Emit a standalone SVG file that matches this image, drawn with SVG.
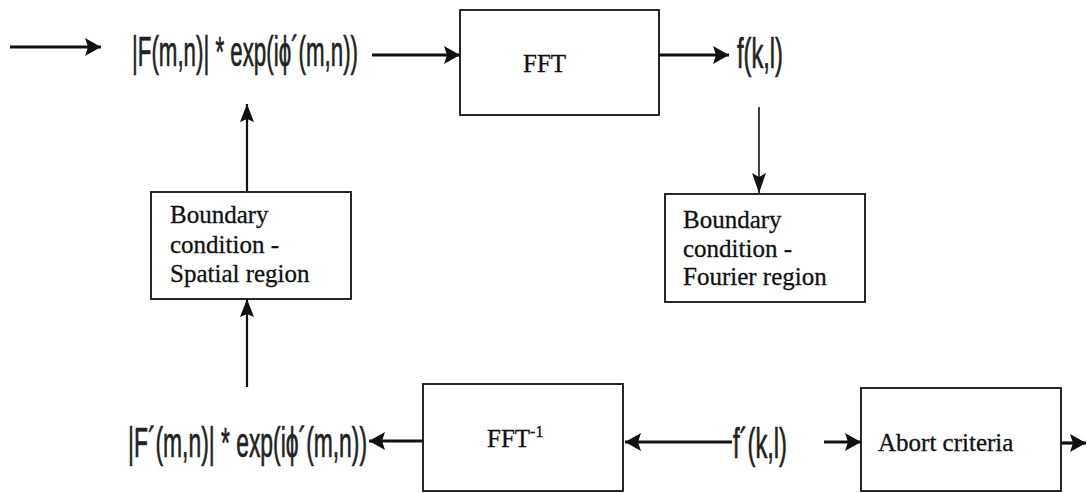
<svg xmlns="http://www.w3.org/2000/svg" width="1087" height="493" viewBox="0 0 1087 493">
<style>
.box{fill:#fff;stroke:#111;stroke-width:1.8}
.serif{font-family:"Liberation Serif","Times New Roman",serif;font-size:25px;fill:#111;stroke:#111;stroke-width:0.3}
.math{font-family:"Liberation Sans",Arial,sans-serif;font-size:42px;fill:#222;stroke:#222;stroke-width:0.7}
.thick{stroke:#111;stroke-width:3.2;fill:none}
.mid{stroke:#111;stroke-width:2.2;fill:none}
.thin{stroke:#111;stroke-width:1.6;fill:none}
</style>
<defs>
<marker id="ah" markerUnits="userSpaceOnUse" viewBox="0 0 16 18" refX="16" refY="9" markerWidth="16" markerHeight="18" orient="auto"><path d="M0,0 L16,9 L0,18 L3,9 z" fill="#111"/></marker>
<marker id="ahm" markerUnits="userSpaceOnUse" viewBox="0 0 18 14" refX="18" refY="7" markerWidth="18" markerHeight="14" orient="auto"><path d="M0,0 L18,7 L0,14 L3,7 z" fill="#111"/></marker>
<marker id="aht" markerUnits="userSpaceOnUse" viewBox="0 0 20 14" refX="20" refY="7" markerWidth="20" markerHeight="14" orient="auto"><path d="M0,0 L20,7 L0,14 L4,7 z" fill="#111"/></marker>
</defs>
<rect width="1087" height="493" fill="#fff"/>
<g id="connectors">
<line class="thick" x1="10" y1="47" x2="101" y2="47" marker-end="url(#ah)"/>
<line class="thick" x1="372" y1="55" x2="460" y2="55" marker-end="url(#ah)"/>
<line class="thick" x1="659" y1="55" x2="729" y2="55" marker-end="url(#ah)"/>
<line class="thin" x1="759" y1="107" x2="759" y2="193" marker-end="url(#aht)"/>
<line class="mid" x1="247" y1="192" x2="247" y2="104" marker-end="url(#ahm)"/>
<line class="mid" x1="247" y1="387" x2="247" y2="299" marker-end="url(#ahm)"/>
<line class="thick" x1="423" y1="441" x2="369" y2="441" marker-end="url(#ah)"/>
<line class="thick" x1="732" y1="442" x2="625" y2="442" marker-end="url(#ah)"/>
<line class="thick" x1="824" y1="442" x2="861" y2="442" marker-end="url(#ah)"/>
<line class="thick" x1="1061" y1="443" x2="1086" y2="443" marker-end="url(#ah)"/>
</g>
<g id="input-expr"><text class="math" x="132" y="66" textLength="226" lengthAdjust="spacingAndGlyphs">|F(m,n)| * exp(iϕ´(m,n))</text></g>
<g id="fft"><rect class="box" x="460" y="10" width="199" height="105"/><text class="serif" x="523" y="72">FFT</text></g>
<g id="fkl"><text class="math" x="737" y="68" textLength="46" lengthAdjust="spacingAndGlyphs">f(k,l)</text></g>
<g id="bc-fourier"><rect class="box" x="665" y="194" width="200" height="108"/><text class="serif" x="683" y="228">Boundary</text><text class="serif" x="683" y="257">condition -</text><text class="serif" x="683" y="285">Fourier region</text></g>
<g id="bc-spatial"><rect class="box" x="151" y="192" width="200" height="107"/><text class="serif" x="170" y="223">Boundary</text><text class="serif" x="170" y="253">condition -</text><text class="serif" x="170" y="282">Spatial region</text></g>
<g id="output-expr"><text class="math" x="128" y="457" textLength="239" lengthAdjust="spacingAndGlyphs">|F´(m,n)| * exp(iϕ´(m,n))</text></g>
<g id="ifft"><rect class="box" x="423" y="384" width="200" height="107"/><text class="serif" x="487" y="447">FFT<tspan font-size="16" dy="-10">-1</tspan></text></g>
<g id="fpkl"><text class="math" x="733" y="458" textLength="54" lengthAdjust="spacingAndGlyphs">f´(k,l)</text></g>
<g id="abort"><rect class="box" x="861" y="388" width="200" height="103"/><text class="serif" x="878" y="451">Abort criteria</text></g>
</svg>
